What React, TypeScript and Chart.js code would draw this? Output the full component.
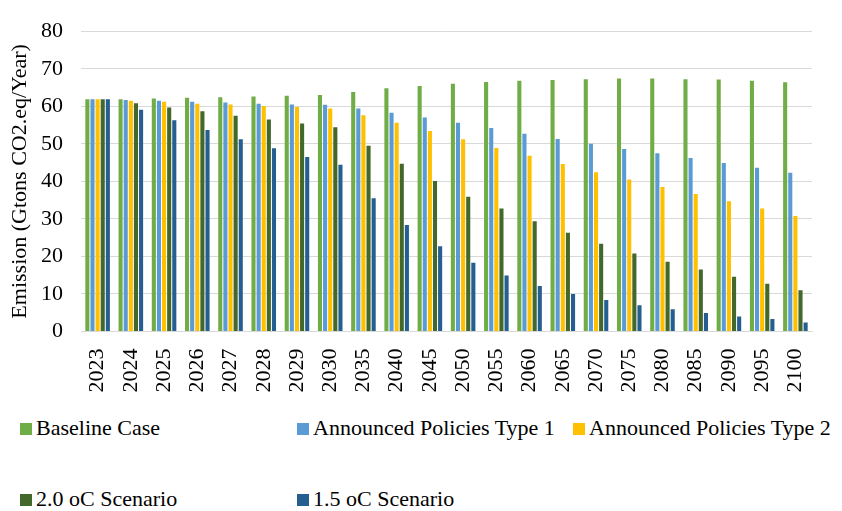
import React, { useEffect, useRef } from "react";
import { Chart, registerables } from "chart.js";

Chart.register(...registerables);

// Emission pathways (Gtons CO2.eq/Year) by year
const years = [
  "2023", "2024", "2025", "2026", "2027", "2028", "2029", "2030", "2035", "2040", "2045",
  "2050", "2055", "2060", "2065", "2070", "2075", "2080", "2085", "2090", "2095", "2100",
];

const baselineCase = [
  61.9, 61.9, 62.1, 62.3, 62.4, 62.6, 62.8, 63.0, 63.8, 64.8, 65.4,
  66.0, 66.5, 66.8, 67.0, 67.2, 67.4, 67.4, 67.2, 67.1, 66.8, 66.4,
];
const announcedType1 = [
  61.9, 61.7, 61.5, 61.2, 61.0, 60.7, 60.5, 60.4, 59.4, 58.3, 57.0,
  55.6, 54.2, 52.7, 51.3, 50.0, 48.6, 47.5, 46.2, 44.9, 43.6, 42.3,
];
const announcedType2 = [
  61.9, 61.5, 61.2, 60.7, 60.5, 60.1, 59.8, 59.4, 57.6, 55.6, 53.4,
  51.2, 48.9, 46.8, 44.6, 42.4, 40.5, 38.5, 36.6, 34.7, 32.8, 30.8,
];
const scenario20 = [
  61.9, 60.8, 59.7, 58.7, 57.5, 56.5, 55.4, 54.4, 49.5, 44.7, 40.1,
  35.9, 32.8, 29.4, 26.3, 23.4, 20.8, 18.6, 16.5, 14.6, 12.7, 11.0,
];
const scenario15 = [
  61.9, 59.1, 56.3, 53.7, 51.2, 48.8, 46.5, 44.4, 35.5, 28.4, 22.7,
  18.3, 14.9, 12.1, 10.0, 8.4, 7.0, 5.9, 4.9, 4.0, 3.3, 2.4,
];

const seriesNames = [
  "Baseline Case",
  "Announced Policies Type 1",
  "Announced Policies Type 2",
  "2.0 oC Scenario",
  "1.5 oC Scenario",
];
const seriesColors = ["#70AD47", "#5B9BD5", "#FFC000", "#43682B", "#255E91"];
const seriesValues = [baselineCase, announcedType1, announcedType2, scenario20, scenario15];

const yTitle = "Emission (Gtons CO2.eq/Year)";

const FONT = "'Liberation Serif', 'Times New Roman', serif";
const CANVAS_W = 842;
const CANVAS_H = 405;

// legend grid: [column left, row index] per series
const legendSlots: [number, number][] = [
  [20, 0],
  [297, 0],
  [573, 0],
  [20, 1],
  [297, 1],
];
const legendRowBoxTop = [422.5, 493.5];
const legendRowTextTop = [416.6, 488];

export default function App() {
  const canvasRef = useRef<HTMLCanvasElement | null>(null);

  useEffect(() => {
    if (!canvasRef.current) return;
    const chart = new Chart(canvasRef.current, {
      type: "bar",
      data: {
        labels: years,
        datasets: seriesNames.map((name, i) => ({
          label: name,
          data: seriesValues[i],
          backgroundColor: seriesColors[i],
          borderWidth: 0,
          categoryPercentage: 0.77,
          barPercentage: 0.8,
        })),
      },
      options: {
        animation: false,
        responsive: false,
        maintainAspectRatio: false,
        layout: { padding: { top: 20.7, right: 30, left: 0, bottom: 0 } },
        plugins: {
          legend: { display: false },
          tooltip: { enabled: false },
        },
        scales: {
          x: {
            grid: { display: false, drawTicks: false },
            border: { display: true, color: "#D9D9D9", width: 1 },
            ticks: {
              autoSkip: false,
              maxRotation: 90,
              minRotation: 90,
              padding: 17,
              color: "#000",
              font: { family: FONT, size: 22 },
            },
            afterFit: (scale: any) => {
              scale.height = CANVAS_H - 331.5;
            },
          },
          y: {
            min: 0,
            max: 80,
            ticks: {
              stepSize: 10,
              padding: 18,
              color: "#000",
              font: { family: FONT, size: 22 },
            },
            grid: { color: "#D9D9D9", lineWidth: 1, drawTicks: false },
            border: { display: false },
            title: {
              display: true,
              text: yTitle,
              color: "#000",
              font: { family: FONT, size: 22, weight: "normal" },
              padding: { top: 7, bottom: 0 },
            },
            afterFit: (scale: any) => {
              scale.width = 81;
            },
          },
        },
      },
    });
    return () => chart.destroy();
  }, []);

  return (
    <div
      style={{
        position: "fixed",
        left: 0,
        top: 0,
        width: CANVAS_W,
        height: 511,
        background: "#fff",
        fontFamily: FONT,
      }}
    >
      <canvas
        ref={canvasRef}
        width={CANVAS_W}
        height={CANVAS_H}
        style={{ position: "absolute", left: 0, top: 0, width: CANVAS_W, height: CANVAS_H }}
      />
      {seriesNames.map((name, i) => {
        const [x, row] = legendSlots[i];
        return (
          <React.Fragment key={name}>
            <div
              style={{
                position: "absolute",
                left: x,
                top: legendRowBoxTop[row],
                width: 12,
                height: 12,
                background: seriesColors[i],
              }}
            />
            <span
              style={{
                position: "absolute",
                left: x + 16,
                top: legendRowTextTop[row],
                fontSize: 22,
                lineHeight: "22px",
                color: "#000",
                whiteSpace: "nowrap",
              }}
            >
              {name}
            </span>
          </React.Fragment>
        );
      })}
    </div>
  );
}
